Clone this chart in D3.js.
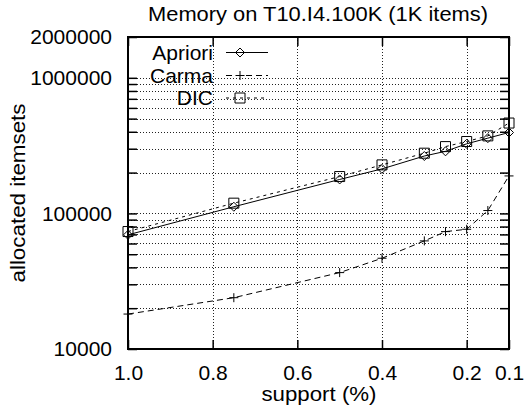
<!DOCTYPE html>
<html>
<head>
<meta charset="utf-8">
<script src="https://cdn.jsdelivr.net/npm/d3@7/dist/d3.min.js"></script>
<style>
  html, body { margin: 0; padding: 0; background: #fff; }
  svg { display: block; }
  text { font-family: "Liberation Sans", Arial, Helvetica, sans-serif; fill: #000; }
</style>
</head>
<body>
<svg id="chart" width="524" height="415"></svg>
<script>
// ---- data ----
const supports = [1.0, 0.75, 0.5, 0.4, 0.3, 0.25, 0.2, 0.15, 0.1];
const apriori = [69500, 112000, 178000, 213000, 265000, 287000, 326000, 359000, 395000];
const carma   = [18100, 23900, 36600, 46700, 62700, 73400, 76400, 105000, 189000];
const dic     = [73500, 119000, 187000, 228000, 278000, 311000, 339000, 373000, 464000];
const seriesNames = ["Apriori", "Carma", "DIC"];
const xTickValues = [1.0, 0.8, 0.6, 0.4, 0.2, 0.1];
const xTickLabels = ["1.0", "0.8", "0.6", "0.4", "0.2", "0.1"];
const yTickValues = [10000, 100000, 1000000, 2000000];
const yTickLabels = ["10000", "100000", "1000000", "2000000"];
const yMinorValues = [20000, 30000, 40000, 50000, 60000, 70000, 80000, 90000,
                      200000, 300000, 400000, 500000, 600000, 700000, 800000, 900000];
const titleText = "Memory on T10.I4.100K (1K items)";
const xLabel = "support (%)";
const yLabel = "allocated itemsets";

// ---- layout ----
const L = 128, R = 509, T = 37, B = 349;
const FS = 21;
const svg = d3.select("#chart");

const x = d3.scaleLinear().domain([1.0, 0.1]).range([L, R]);
const y = d3.scaleLog().domain([10000, 2000000]).range([B, T]);

// grid
const grid = svg.append("g").attr("stroke", "#222").attr("stroke-width", 1)
  .attr("stroke-dasharray", "1,2").attr("fill", "none");
const hGrid = yMinorValues.concat([100000, 1000000]);
grid.selectAll("line.h").data(hGrid).join("line")
  .attr("class", "h")
  .attr("x1", L).attr("x2", R)
  .attr("y1", d => Math.round(y(d)) + 0.5).attr("y2", d => Math.round(y(d)) + 0.5);
grid.selectAll("line.v").data(xTickValues.filter(d => d !== 1.0 && d !== 0.1)).join("line")
  .attr("class", "v")
  .attr("x1", d => Math.round(x(d)) + 0.5).attr("x2", d => Math.round(x(d)) + 0.5)
  .attr("y1", T).attr("y2", B);

// axes
const fmtX = d => xTickLabels[xTickValues.indexOf(d)];
const fmtY = d => yTickLabels[yTickValues.indexOf(d)];

function styleAxis(g) {
  g.select(".domain").remove();
  g.selectAll(".tick line").attr("stroke", "#000").attr("stroke-width", 1.5);
  g.selectAll(".tick text").attr("font-size", FS).style("font-family", '"Liberation Sans", Arial, sans-serif').attr("fill", "#000");
}

svg.append("g").attr("transform", `translate(0,${B})`)
  .call(d3.axisBottom(x).tickValues(xTickValues).tickFormat(fmtX).tickSize(-9).tickPadding(16))
  .call(styleAxis);
svg.append("g").attr("transform", `translate(0,${T})`)
  .call(d3.axisTop(x).tickValues(xTickValues).tickFormat("").tickSize(-9))
  .call(styleAxis);
svg.append("g").attr("transform", `translate(${L},0)`)
  .call(d3.axisLeft(y).tickValues(yTickValues).tickFormat(fmtY).tickSize(-9).tickPadding(16))
  .call(styleAxis);
svg.append("g").attr("transform", `translate(${L},0)`)
  .call(d3.axisLeft(y).tickValues(yMinorValues).tickFormat("").tickSize(-9))
  .call(styleAxis);
svg.append("g").attr("transform", `translate(${R},0)`)
  .call(d3.axisRight(y).tickValues(yTickValues.concat(yMinorValues)).tickFormat("").tickSize(-9))
  .call(styleAxis);

// series
const series = [
  { name: seriesNames[0], values: apriori, dash: null, marker: "diamond" },
  { name: seriesNames[1], values: carma, dash: "6,4", marker: "plus" },
  { name: seriesNames[2], values: dic, dash: "3,4", marker: "square" }
];

function markerPath(type, cx, cy) {
  if (type === "diamond") { const s = 4.5; return `M${cx},${cy - s}L${cx + s},${cy}L${cx},${cy + s}L${cx - s},${cy}Z`; }
  if (type === "square") { const s = 5; return `M${cx - s},${cy - s}H${cx + s}V${cy + s}H${cx - s}Z`; }
  const s = 4.5; return `M${cx - s},${cy}H${cx + s}M${cx},${cy - s}V${cy + s}`;
}

const line = d3.line().x(d => x(d[0])).y(d => y(d[1]));
series.forEach(s => {
  const pts = supports.map((v, i) => [v, s.values[i]]);
  svg.append("path").datum(pts).attr("d", line)
    .attr("fill", "none").attr("stroke", "#000").attr("stroke-width", 1)
    .attr("stroke-dasharray", s.dash);
  svg.append("g").selectAll("path").data(pts).join("path")
    .attr("d", d => markerPath(s.marker, x(d[0]), y(d[1])))
    .attr("fill", "none").attr("stroke", "#000").attr("stroke-width", 1);
});

// frame
svg.append("rect").attr("x", L).attr("y", T).attr("width", R - L).attr("height", B - T)
  .attr("fill", "none").attr("stroke", "#000").attr("stroke-width", 2);

// legend
const legY = [52.5, 75.5, 98];
series.forEach((s, i) => {
  const ly = legY[i];
  svg.append("text").attr("x", 213).attr("y", ly).attr("dy", "0.35em")
    .attr("text-anchor", "end").attr("font-size", FS).text(s.name);
  svg.append("line").attr("x1", 226).attr("x2", 268).attr("y1", ly).attr("y2", ly)
    .attr("stroke", "#000").attr("stroke-width", 1).attr("stroke-dasharray", s.dash);
  svg.append("path").attr("d", markerPath(s.marker, 240, ly))
    .attr("fill", "none").attr("stroke", "#000").attr("stroke-width", 1);
});

// titles
svg.append("text").attr("x", 318).attr("y", 21).attr("text-anchor", "middle")
  .attr("font-size", 20).attr("textLength", 340).attr("lengthAdjust", "spacingAndGlyphs").text(titleText);
svg.append("text").attr("x", 319).attr("y", 401).attr("text-anchor", "middle")
  .attr("font-size", FS).attr("textLength", 115).attr("lengthAdjust", "spacingAndGlyphs").text(xLabel);
svg.append("text").attr("transform", "translate(25,193) rotate(-90)").attr("text-anchor", "middle")
  .attr("font-size", FS).attr("textLength", 179).attr("lengthAdjust", "spacingAndGlyphs").text(yLabel);
</script>
</body>
</html>
